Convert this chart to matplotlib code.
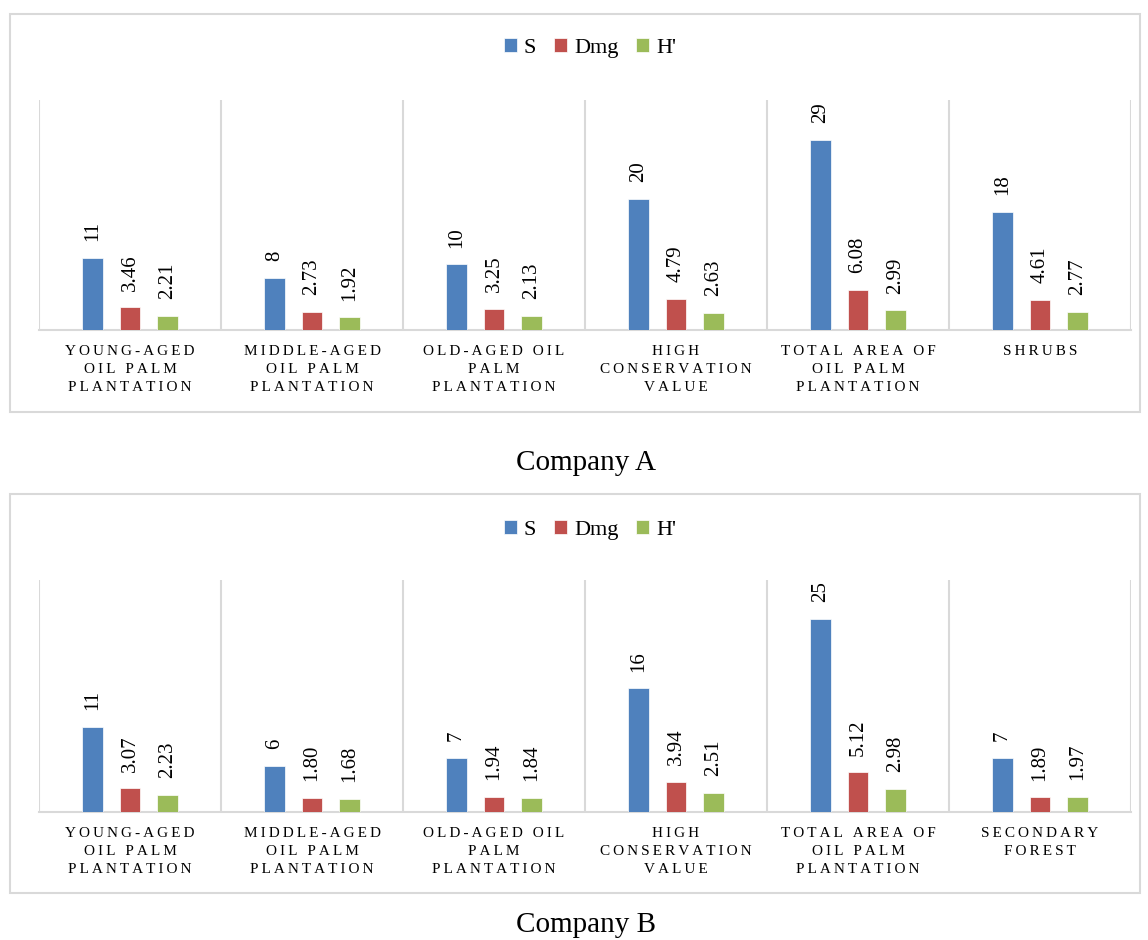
import matplotlib.pyplot as plt
import numpy as np
from matplotlib.patches import Rectangle

plt.rcParams['font.family'] = ['Liberation Serif', 'DejaVu Serif']

series = ["S", "Dmg", "H'"]
colors = ['#4F81BD', '#C0504D', '#9BBB59']

cats_a = ["YOUNG-AGED\nOIL PALM\nPLANTATION", "MIDDLE-AGED\nOIL PALM\nPLANTATION",
          "OLD-AGED OIL\nPALM\nPLANTATION", "HIGH\nCONSERVATION\nVALUE",
          "TOTAL AREA OF\nOIL PALM\nPLANTATION", "SHRUBS"]
s_a = [11, 8, 10, 20, 29, 18]
dmg_a = [3.46, 2.73, 3.25, 4.79, 6.08, 4.61]
h_a = [2.21, 1.92, 2.13, 2.63, 2.99, 2.77]

cats_b = ["YOUNG-AGED\nOIL PALM\nPLANTATION", "MIDDLE-AGED\nOIL PALM\nPLANTATION",
          "OLD-AGED OIL\nPALM\nPLANTATION", "HIGH\nCONSERVATION\nVALUE",
          "TOTAL AREA OF\nOIL PALM\nPLANTATION", "SECONDARY\nFOREST"]
s_b = [11, 6, 7, 16, 25, 7]
dmg_b = [3.07, 1.80, 1.94, 3.94, 5.12, 1.89]
h_b = [2.23, 1.68, 1.84, 2.51, 2.98, 1.97]

W, H = 1148, 940
fig = plt.figure(figsize=(W / 100, H / 100), dpi=100)


def spaced(label):
    # fake the letter spacing of the original with thin spaces
    thin = "\u2009"
    lines = []
    for line in label.split("\n"):
        words = [thin.join(list(w)) for w in line.split(" ")]
        lines.append((thin + " " + thin).join(words))
    return "\n".join(lines)


def panel(top, bottom, ax_top, ax_bot, leg_y, cap_y, cats, vals, ymax, caption):
    # outer border
    fig.patches.append(Rectangle((10 / W, 1 - bottom / H), 1130 / W, (bottom - top) / H,
                                 transform=fig.transFigure, fill=False,
                                 edgecolor='#D9D9D9', linewidth=1.5))
    ax = fig.add_axes([39 / W, 1 - ax_bot / H, 1092 / W, (ax_bot - ax_top) / H])
    x = np.arange(len(cats))
    offs = [-0.206, 0, 0.206]
    for k in range(3):
        rects = ax.bar(x + offs[k], vals[k], 0.11, color=colors[k], label=series[k],
                       edgecolor='white', linewidth=0.5, zorder=3)
        fmt = '%d' if k == 0 else '%.2f'
        ax.bar_label(rects, fmt=fmt, rotation=90, padding=12, fontsize=15)
    for xv in np.arange(-0.5, len(cats), 1.0):
        ax.axvline(xv, color='#D9D9D9', linewidth=1.5, zorder=1)
    ax.set_xlim(-0.5, len(cats) - 0.5)
    ax.set_ylim(0, ymax)
    for sp in ['top', 'right', 'left']:
        ax.spines[sp].set_visible(False)
    ax.spines['bottom'].set_color('#D9D9D9')
    ax.spines['bottom'].set_linewidth(1.5)
    ax.set_yticks([])
    ax.set_xticks(x)
    ax.set_xticklabels([spaced(c) for c in cats], fontsize=11)
    for t in ax.get_xticklabels():
        t.set_linespacing(1.5)
    ax.tick_params(axis='x', length=0, pad=11)
    ax.legend(loc='center', bbox_to_anchor=(590 / W, 1 - leg_y / H),
              bbox_transform=fig.transFigure, ncol=3, frameon=False, fontsize=16,
              handlelength=0.6, handleheight=0.6, handletextpad=0.3, columnspacing=0.8)
    fig.text(586 / W, 1 - cap_y / H, caption, ha='center', va='center', fontsize=21)
    return ax


panel(14, 412, 100, 330, 48, 463, cats_a, [s_a, dmg_a, h_a], 35.1, "Company A")
panel(494, 893, 580, 812, 530, 925, cats_b, [s_b, dmg_b, h_b], 30.05, "Company B")

fig.savefig('out.png', dpi=100)
